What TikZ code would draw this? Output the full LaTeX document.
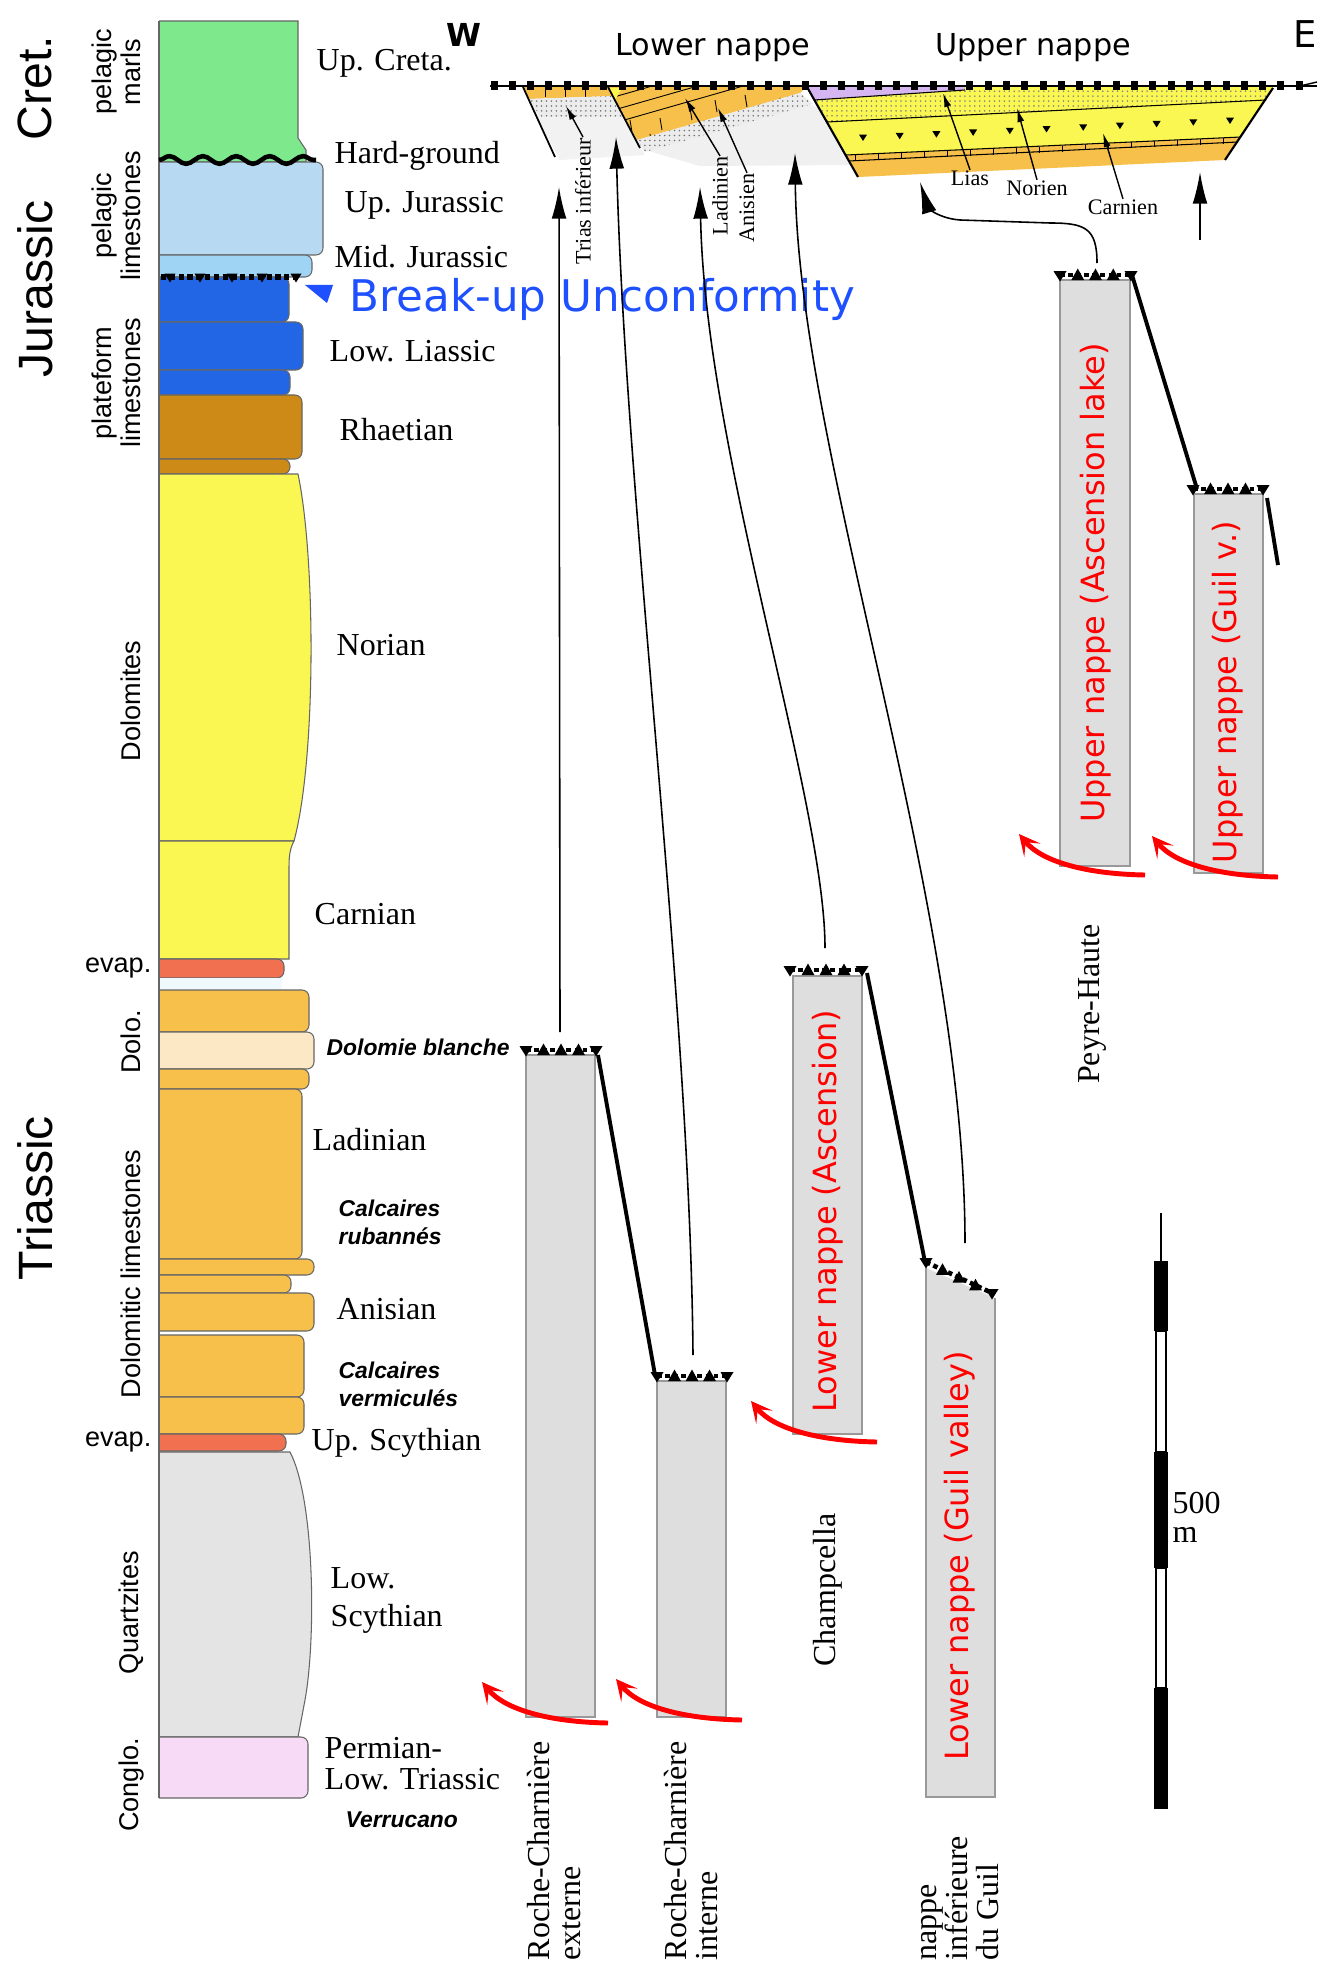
\documentclass[tikz,border=0pt]{standalone}
\usepackage{fontspec}
\setmainfont{Liberation Serif}
\setsansfont{Liberation Sans}
\newfontfamily\comicfont{DejaVu Sans}
\usetikzlibrary{arrows.meta,decorations.pathmorphing,patterns.meta}

% colours of the beds
\definecolor{cretgreen}{RGB}{125,232,140}
\definecolor{jurlight}{RGB}{183,218,242}
\definecolor{jurmid}{RGB}{160,212,245}
\definecolor{liasblue}{RGB}{34,102,230}
\definecolor{rhaetbrown}{RGB}{205,138,22}
\definecolor{noryellow}{RGB}{250,246,82}
\definecolor{evapred}{RGB}{240,112,80}
\definecolor{dolorange}{RGB}{246,192,74}
\definecolor{dolcream}{RGB}{252,232,196}
\definecolor{quartzgray}{RGB}{228,228,228}
\definecolor{conglopink}{RGB}{246,218,246}
\definecolor{colgray}{RGB}{222,222,222}
\definecolor{nappepurple}{RGB}{214,182,240}
\definecolor{breakblue}{RGB}{30,80,255}

% one bed of the log: top, bottom, right edge, colour
\newcommand{\bed}[4]{\draw[bedline, fill=#4, rounded corners=2pt] (150,#1) rectangle (#3,#2);}
% thrust contact on top of a section
\newcommand{\thrustrow}[4]{%
  \draw[densely dotted, line width=1.3pt] (#1,#2) -- (#3,#4);
  \foreach \f in {0,1} \pic[scale=1.3] at ({#1+\f*(#3-#1)},{#2+\f*(#4-#2)}) {tridn};
  \foreach \f in {0.25,0.5,0.75} \pic[scale=1.3] at ({#1+\f*(#3-#1)},{#2+\f*(#4-#2)}) {triup};}

\begin{document}
\begin{tikzpicture}[x=0.01cm, y=-0.01cm,
	bedline/.style={draw=black!60, line width=0.3pt},
	lbl/.style={font=\fontsize{9.1}{10.2}\selectfont, anchor=west, inner sep=0pt, align=left},
	sml/.style={font=\fontsize{6.3}{7}\selectfont, inner sep=0pt},
	sflbl/.style={font=\sffamily\fontsize{7.7}{8.2}\selectfont, inner sep=0pt, align=center},
	bilbl/.style={font=\sffamily\bfseries\itshape\fontsize{6.5}{8}\selectfont, anchor=west, inner sep=0pt, align=left},
	era/.style={font=\sffamily\fontsize{13.7}{15}\selectfont, rotate=90, inner sep=0pt},
	comic/.style={font=\comicfont\fontsize{8.6}{10}\selectfont, inner sep=0pt},
	nappename/.style={comic, font=\comicfont\fontsize{9.1}{10}\selectfont, text=red, rotate=90},
	sitename/.style={font=\fontsize{9.1}{8.8}\selectfont, rotate=90, anchor=west, align=left, inner sep=0pt},
	stratcol/.style={fill=colgray},
	fault/.style={line width=1.1pt},
	corr/.style={line width=0.45pt, -{Latex[length=9pt,width=4.2pt]}},
	lblarrow/.style={line width=0.4pt, -{Latex[length=4pt,width=2pt]}},
	redhook/.style={red, line width=1.4pt, -{Stealth[length=6pt,width=6pt,inset=3pt]}},
	tridn/.pic={\fill (-5,-3) -- (5,-3) -- (0,5) -- cycle;},
	triup/.pic={\fill (-5,4) -- (5,4) -- (0,-5) -- cycle;}
	]
	\fill[white] (0,0) rectangle (1334,1967);
	\useasboundingbox (0,0) rectangle (1334,1967);

	%Log
	\begin{scope}
		\clip (159,0) rectangle (400,1967);
		\draw[bedline, fill=cretgreen] (150,21) -- (298,21) -- (298,138) -- (306,150) -- (306,162) -- (150,162) -- cycle;
		\bed{162}{255}{323}{jurlight}
		\bed{255}{277}{312}{jurmid}
		\bed{277}{322}{289}{liasblue}
		\bed{322}{370}{303}{liasblue}
		\bed{370}{395}{290}{liasblue}
		\bed{395}{459}{302}{rhaetbrown}
		\bed{459}{474}{290}{rhaetbrown}
		\draw[bedline, fill=noryellow] (150,474) -- (298,474) .. controls (316,560) and (316,760) .. (294,841) -- (150,841) -- cycle;
		\draw[bedline, fill=noryellow] (150,841) -- (294,841) .. controls (289,850) and (289,860) .. (289,870) -- (289,959) -- (150,959) -- cycle;
		\bed{959}{978}{284}{evapred}
		\fill[cyan!6] (150,978) rectangle (282,990);
		\bed{990}{1032}{309}{dolorange}
		\bed{1032}{1069}{314}{dolcream}
		\bed{1069}{1089}{309}{dolorange}
		\bed{1089}{1259}{302}{dolorange}
		\bed{1259}{1275}{314}{dolorange}
		\bed{1275}{1293}{291}{dolorange}
		\bed{1293}{1331}{314}{dolorange}
		\bed{1335}{1397}{304}{dolorange}
		\bed{1397}{1434}{304}{dolorange}
		\bed{1434}{1451}{286}{evapred}
		\draw[bedline, fill=quartzgray] (150,1452) -- (290,1452) .. controls (315,1500) and (316,1640) .. (305,1700) -- (298,1737) -- (150,1737) -- cycle;
		\bed{1737}{1798}{308}{conglopink}
	\end{scope}
	\draw[bedline] (159,21) -- (159,1798);
	% hard-ground and break-up surface
	\draw[line width=1.3pt, decorate, decoration={snake, amplitude=1.1pt, segment length=9.5pt}] (159,160) -- (316,160);
	\draw[densely dotted, line width=1.5pt] (161,277) -- (300,277);
	\foreach \x in {170,200,232,262,296} \pic[scale=1.1] at (\x,277) {tridn};
	\fill[breakblue] (305,285) -- (333,285) -- (327,303) -- cycle;

	%Ages
	\node[era] (eCret) at (35,88) {Cret.};
	\node[era] (eJur) at (35,289) {Jurassic};
	\node[era] (eTrias) at (35,1198) {Triassic};
	%Lithologies
	\node[sflbl, rotate=90] (fMarls) at (116,72) {pelagic\\marls};
	\node[sflbl, rotate=90] (fPelLime) at (116,216) {pelagic\\limestones};
	\node[sflbl, rotate=90] (fPlatLime) at (116,383) {plateform\\limestones};
	\node[sflbl, rotate=90] (fDolomites) at (131,701) {Dolomites};
	\node[sflbl, anchor=east] (fEvapA) at (152,968) {evap.};
	\node[sflbl, rotate=90] (fDolo) at (131,1042) {Dolo.};
	\node[sflbl, rotate=90] (fDolLime) at (131,1274) {Dolomitic limestones};
	\node[sflbl, anchor=east] (fEvapB) at (152,1442) {evap.};
	\node[sflbl, rotate=90] (fQuartz) at (131,1613) {Quartzites};
	\node[sflbl, rotate=90] (fConglo) at (131,1785) {Conglo.};
	%Stages
	\node[lbl] (sCreta) at (316,63) {Up. Creta.};
	\node[lbl] (sHard) at (334,156) {Hard-ground};
	\node[lbl] (sUpJur) at (344,205) {Up. Jurassic};
	\node[lbl] (sMidJur) at (334,257) {Mid. Jurassic};
	\node[comic, font=\comicfont\fontsize{12.4}{14}\selectfont, text=breakblue, anchor=west] (sBreak) at (349,299) {Break-up Unconformity};
	\node[lbl] (sLias) at (329,351) {Low. Liassic};
	\node[lbl] (sRhaet) at (339,430) {Rhaetian};
	\node[lbl] (sNor) at (336,645) {Norian};
	\node[lbl] (sCarn) at (314,914) {Carnian};
	\node[bilbl] (sDolBl) at (326,1047) {Dolomie blanche};
	\node[lbl] (sLadin) at (312,1140) {Ladinian};
	\node[bilbl] (sRuban) at (338,1222) {Calcaires\\rubannés};
	\node[lbl] (sAnis) at (336,1309) {Anisian};
	\node[bilbl] (sVermi) at (338,1384) {Calcaires\\vermiculés};
	\node[lbl] (sUpScy) at (311,1443) {Up. Scythian};
	\node[lbl, font=\fontsize{9.1}{10.8}\selectfont] (sLowScy) at (330,1600) {Low.\\Scythian};
	\node[lbl, font=\fontsize{9.1}{8.8}\selectfont] (sPerm) at (324,1764) {Permian-\\Low. Triassic};
	\node[bilbl] (sVerru) at (345,1820) {Verrucano};

	%Cross-section
	\fill[gray!10] (530,104) -- (614,100) -- (645,155) -- (560,160) -- cycle;
	\fill[gray!12] (645,150) -- (806,103) -- (822,110) -- (852,165) -- (700,166) -- cycle;
	% western slice
	\fill[dolorange] (523,87) -- (608,87) -- (613,96) -- (528,99) -- cycle;
	\foreach \x in {545,565,585} \draw[line width=0.2pt] (\x,88) -- (\x,97);
	\fill[gray!15] (528,99) -- (613,96) -- (624,117) -- (541,117) -- cycle;
	\fill[pattern={Dots[distance=1.4pt,radius=0.25pt]}, pattern color=black!55] (528,99) -- (613,96) -- (624,117) -- (541,117) -- cycle;
	\draw[line width=0.5pt] (523,87) -- (555,157);
	% lower nappe
	\begin{scope}
		\clip (608,87) -- (806,87) -- (800,93) -- (637,140) -- cycle;
		\fill[dolorange] (600,80) rectangle (820,150);
		\foreach \k in {1,2,3,4} \draw[line width=0.25pt] (600,{140-\k*13}) -- (820,{77-\k*13});
		\foreach \x/\y in {630/120,660/118,690/108,715/100,735/116,760/104,650/134,700/126,745/95,780/98}
			\draw[line width=0.25pt] (\x,\y) -- (\x+2,\y+12);
	\end{scope}
	\fill[yellow!70] (610,88) -- (622,88) -- (615,100) -- cycle;
	\fill[gray!15] (637,140) -- (800,93) -- (813,104) -- (645,152) -- cycle;
	\fill[pattern={Dots[distance=1.4pt,radius=0.25pt]}, pattern color=black!55] (637,140) -- (800,93) -- (813,104) -- (645,152) -- cycle;
	\draw[line width=0.5pt] (608,87) -- (640,148);
	% upper nappe
	\fill[dolorange] (807,87) -- (1273,87) -- (1225,160) -- (858,177) -- cycle;
	\fill[noryellow] (807,87) -- (1273,87) -- (1241,137) -- (846,155) -- cycle;
	\fill[pattern={Dots[distance=1.4pt,radius=0.25pt]}, pattern color=black!50] (807,87) -- (1273,87) -- (1266,100) -- (827,122) -- cycle;
	\fill[nappepurple] (807,87) -- (965,87) -- (965,90) -- (814,100) -- cycle;
	\draw[line width=0.3pt] (814,100) -- (965,90);
	\draw[line width=0.3pt] (827,122) -- (1266,100);
	\draw[line width=0.3pt] (846,155) -- (1241,137);
	\draw[line width=0.3pt] (849,161) -- (1238,142);
	\foreach \i in {0,...,16} \draw[line width=0.2pt] ({855+\i*23},{155-\i*1.05}) -- ++(0,6);
	\foreach \i in {0,...,10} \pic[scale=0.8] at ({863+\i*36.7},{137-\i*1.7}) {tridn};
	\draw[line width=0.6pt] (807,87) -- (858,177);
	\draw[line width=0.6pt] (1273,88) -- (1225,160);
	% basal contact
	\draw[line width=0.6pt] (490,86) -- (1317,86);
	\foreach \x in {494,512.3,...,1312} \fill (\x-3.5,81) rectangle (\x+3.5,90);
	\draw[line width=0.4pt] (1300,86) -- (1317,82);

	\node[comic, font=\comicfont\bfseries\fontsize{9}{10}\selectfont] (dirW) at (464,35) {W};
	\node[comic, font=\comicfont\fontsize{10.5}{12}\selectfont] (dirE) at (1305,34) {E};
	\node[comic] (tLower) at (713,48) {Lower nappe};
	\node[comic] (tUpper) at (1033,48) {Upper nappe};

	\node[sml, rotate=90] (xTrias) at (583,201) {Trias inférieur};
	\node[sml, rotate=90] (xLadin) at (720,196) {Ladinien};
	\node[sml, rotate=90] (xAnis) at (747,208) {Anisien};
	\node[sml] (xLias) at (970,178) {Lias};
	\node[sml] (xNor) at (1037,188) {Norien};
	\node[sml] (xCarn) at (1123,207) {Carnien};
	\draw[lblarrow] (xTrias.east) -- (566,106);
	\draw[lblarrow] (xLadin.east) -- (685,98);
	\draw[lblarrow] (xAnis.east) -- (718,108);
	\draw[lblarrow] (xLias.north) -- (943,93);
	\draw[lblarrow] (xNor.north) -- (1017,108);
	\draw[lblarrow] (xCarn.north) -- (1103,133);

	%Sections
	\fill[stratcol] (526,1055) rectangle (595,1717);
	\fill[stratcol] (657,1381) rectangle (726,1717);
	\fill[stratcol] (793,976) rectangle (862,1434);
	\fill[stratcol] (926,1268) -- (995,1298) -- (995,1797) -- (926,1797) -- cycle;
	\fill[stratcol] (1060,280) rectangle (1130,866);
	\fill[stratcol] (1194,494) rectangle (1263,873);
	\draw[black!40, line width=0.3pt] (526,1055) rectangle (595,1717) (657,1381) rectangle (726,1717)
		(793,976) rectangle (862,1434) (926,1268) -- (926,1797) -- (995,1797) -- (995,1298)
		(1060,280) rectangle (1130,866) (1194,494) rectangle (1263,873);
	\thrustrow{526}{1050}{596}{1050}
	\thrustrow{657}{1376}{727}{1376}
	\thrustrow{790}{970}{862}{970}
	\thrustrow{926}{1262}{992}{1293}
	\thrustrow{1060}{275}{1131}{275}
	\thrustrow{1193}{489}{1263}{489}
	\draw[fault] (598,1055) -- (655,1375);
	\draw[fault] (867,973) -- (925,1262);
	\draw[fault] (1132,275) -- (1197,489);
	\draw[fault] (1267,498) -- (1278,565);

	\node[nappename] (nAsc) at (828,1211) {Lower nappe (Ascension)};
	\node[nappename] (nGuil) at (960,1556) {Lower nappe (Guil valley)};
	\node[nappename] (nLake) at (1096,583) {Upper nappe (Ascension lake)};
	\node[nappename] (nGuilv) at (1228,692) {Upper nappe (Guil v.)};

	\foreach \sx/\sy in {608/1723,742/1720,877/1442,1145/875,1278/877}
		\draw[redhook] (\sx,\sy) .. controls ({\sx-58},{\sy-1}) and ({\sx-103},{\sy-13}) .. ({\sx-126},{\sy-41});

	\node[sitename] (pRCe) at (554,1961) {Roche-Charnière\\externe};
	\node[sitename] (pRCi) at (691,1961) {Roche-Charnière\\interne};
	\node[sitename, anchor=center] (pChamp) at (828,1590) {Champcella};
	\node[sitename] (pGuil) at (960,1961) {nappe\\inférieure\\du Guil};
	\node[sitename, anchor=center] (pPeyre) at (1092,1004) {Peyre-Haute};

	%Correlation lines
	\coordinate (rceTop) at (560,1032);
	\coordinate (rceTip) at (559,187);
	\coordinate (rciTop) at (693,1355);
	\coordinate (rciTip) at (616,137);
	\coordinate (chTop) at (825,948);
	\coordinate (chTip) at (700,187);
	\coordinate (guTop) at (965,1243);
	\coordinate (guTip) at (795,153);
	\coordinate (phTop) at (1097,263);
	\coordinate (phTip) at (920,182);
	\coordinate (gvTop) at (1200,240);
	\coordinate (gvTip) at (1200,172);
	\draw[corr] (rceTop) -- (rceTip);
	\draw[corr] (rciTop) .. controls (690,1000) and (625,500) .. (rciTip);
	\draw[corr] (chTop) .. controls (825,800) and (705,450) .. (chTip);
	\draw[corr] (guTop) .. controls (965,900) and (798,450) .. (guTip);
	\draw[corr] (phTop) .. controls (1097,228) and (1085,223) .. (1050,223) -- (960,220) .. controls (935,218) and (927,205) .. (phTip);
	\draw[corr] (gvTop) -- (gvTip);

	%Scale
	\draw[line width=0.4pt] (1161,1213) -- (1161,1261);
	\draw[line width=0.3pt] (1156,1331) rectangle (1166,1452);
	\draw[line width=0.3pt] (1156,1568) rectangle (1166,1688);
	\fill (1154,1261) rectangle (1168,1331);
	\fill (1154,1452) rectangle (1168,1568);
	\fill (1154,1688) rectangle (1168,1809);
	\node[lbl] (bar500) at (1172,1503) {500};
	\node[lbl] (barM) at (1172,1535) {m};
\end{tikzpicture}
\end{document}
